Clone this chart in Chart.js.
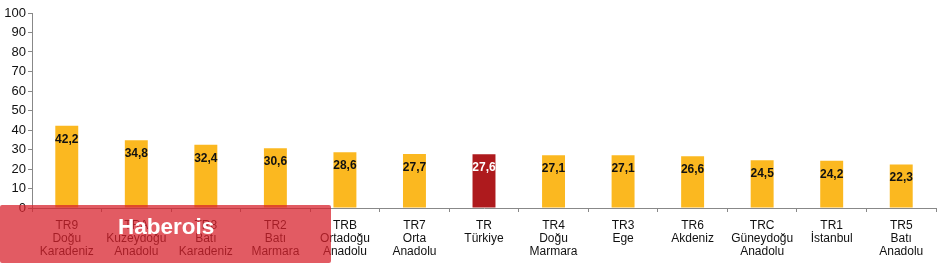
<!DOCTYPE html>
<html>
<head>
<meta charset="utf-8">
<script src="https://cdn.jsdelivr.net/npm/chart.js@4"></script>
<style>
  html, body { margin: 0; padding: 0; background: #fff; }
  #wrap { position: relative; width: 941px; height: 264px; }
  #wm { position: absolute; left: 0; top: 205px; width: 331px; height: 58px;
        background: rgba(216, 34, 44, 0.74); border-radius: 2px; }
  #wm span { position: absolute; left: 118px; top: 9px; color: #fff;
             font: bold 22.5px "Liberation Sans", Arial, sans-serif; }
</style>
</head>
<body>
<div id="wrap">
  <canvas id="c" width="941" height="264"></canvas>
  <div id="wm"><span>Haberois</span></div>
</div>
<script>
const categories = [
  ["TR9","Doğu","Karadeniz"],
  ["TRA","Kuzeydoğu","Anadolu"],
  ["TR8","Batı","Karadeniz"],
  ["TR2","Batı","Marmara"],
  ["TRB","Ortadoğu","Anadolu"],
  ["TR7","Orta","Anadolu"],
  ["TR","Türkiye"],
  ["TR4","Doğu","Marmara"],
  ["TR3","Ege"],
  ["TR6","Akdeniz"],
  ["TRC","Güneydoğu","Anadolu"],
  ["TR1","İstanbul"],
  ["TR5","Batı","Anadolu"]
];
const values = [42.2, 34.8, 32.4, 30.6, 28.6, 27.7, 27.6, 27.1, 27.1, 26.6, 24.5, 24.2, 22.3];
const highlightIndex = 6;
const yTicks = [0,10,20,30,40,50,60,70,80,90,100];

const YELLOW = '#FBB820';
const RED = '#AE1A1D';

const labelPlugin = {
  id: 'valueLabels',
  afterDatasetsDraw(chart) {
    const ctx = chart.ctx;
    const meta = chart.getDatasetMeta(0);
    ctx.save();
    ctx.font = 'bold 12px "Liberation Sans", Arial, sans-serif';
    ctx.textAlign = 'center';
    ctx.textBaseline = 'middle';
    meta.data.forEach((bar, i) => {
      ctx.fillStyle = i === highlightIndex ? '#ffffff' : '#111111';
      ctx.fillText(values[i].toFixed(1).replace('.', ','), bar.x, bar.y + 13.5);
    });
    ctx.restore();
  }
};

new Chart(document.getElementById('c'), {
  type: 'bar',
  data: {
    labels: categories,
    datasets: [{
      data: values,
      backgroundColor: values.map((v, i) => i === highlightIndex ? RED : YELLOW),
      barPercentage: 0.33,
      categoryPercentage: 1.0
    }]
  },
  options: {
    responsive: false,
    animation: false,
    devicePixelRatio: 1,
    layout: { padding: { top: 13, right: 5, left: 0, bottom: 0 } },
    plugins: { legend: { display: false }, tooltip: { enabled: false } },
    scales: {
      y: {
        min: 0, max: 100,
        afterBuildTicks(scale) { scale.ticks = yTicks.map(v => ({ value: v })); },
        afterFit(scale) { scale.width = 32; },
        grid: { display: true, drawOnChartArea: false, drawTicks: true, tickLength: 4, color: '#888' },
        border: { display: true, color: '#888' },
        ticks: { color: '#111', padding: 2, font: { family: '"Liberation Sans", Arial, sans-serif', size: 13 } }
      },
      x: {
        afterFit(scale) { scale.height = 56; },
        grid: { display: true, drawOnChartArea: false, drawTicks: true, tickLength: 4, color: '#888', offset: true },
        border: { display: true, color: '#888' },
        ticks: { color: '#111', padding: 7, maxRotation: 0, autoSkip: false,
                 font: { family: '"Liberation Sans", Arial, sans-serif', size: 12, lineHeight: 1.08 } }
      }
    }
  },
  plugins: [labelPlugin]
});
</script>
</body>
</html>
